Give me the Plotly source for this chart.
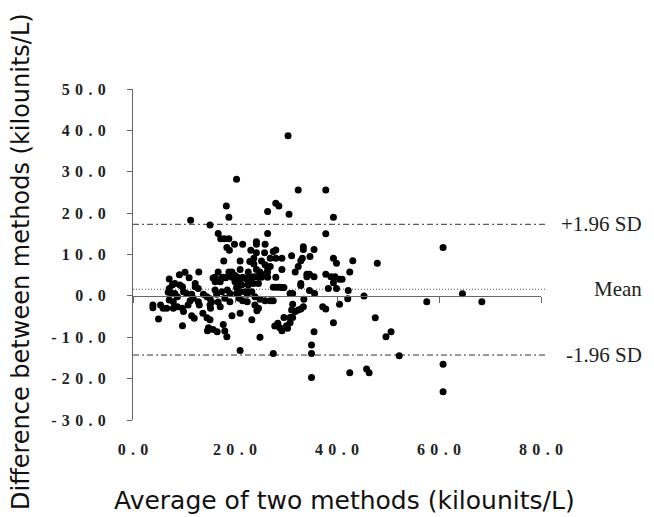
import plotly.graph_objects as go

# ---------------- data ----------------
avg = [
    30.4, 20.3, 32.4, 37.8, 28.0, 28.6, 18.3, 26.4, 30.6, 18.8, 39.3, 11.3, 15.1, 16.7, 26.4, 37.8,
    17.2, 17.9, 18.8, 19.9, 21.5, 24.2, 24.2, 25.9, 18.4, 18.9, 23.1, 24.2, 25.8, 28.0, 33.4, 33.4, 35.5, 27.5,
    17.8, 21.0, 23.7, 25.2, 26.9, 28.0, 29.2, 31.1, 33.2, 22.9, 12.9, 16.7, 18.8, 19.4, 21.0, 22.6, 24.2, 23.7,
    26.4, 26.4, 29.2, 31.8, 32.4, 25.9, 26.9, 25.6, 24.9,
    16.1, 17.7, 19.4, 20.5, 21.5, 22.6, 25.2, 26.4, 28.0,
    34.7, 39.3, 39.9, 43.1, 47.9, 42.5, 32.9,
    34.1, 34.1, 34.6, 35.5, 32.9, 32.9, 37.8, 38.8, 39.6, 39.3, 40.5, 41.0, 38.3, 39.9, 42.2,
    29.2, 29.6, 27.5, 28.2, 28.8, 30.8, 31.3, 34.6, 35.6,
    24.3, 23.6, 22.9, 22.6, 23.6, 24.6, 22.6, 23.3,
    10.2, 9.1, 11.0, 7.1, 8.2, 7.7, 9.2, 9.7, 12.2, 12.2, 12.8, 15.7, 16.1, 17.1, 17.4, 18.2, 18.9, 20.0,
    20.0, 21.0, 21.3, 22.3, 22.6, 20.3,
    7.1, 6.9, 7.6, 8.2, 8.7, 9.9, 10.5, 11.5, 11.8, 13.8, 14.5, 15.1, 15.4, 16.1, 16.4, 17.4, 18.5, 19.0,
    20.3, 21.0, 22.0, 22.4,
    3.9, 3.9, 5.4, 5.9, 6.6, 7.1, 7.9, 7.9, 8.7, 9.7, 10.8, 11.2, 12.8, 13.0, 15.1, 15.2, 16.7, 17.1, 18.0,
    19.0, 20.8, 21.5, 22.4,
    5.0, 9.9, 11.5, 12.0, 9.7, 13.7, 14.5, 14.8, 17.7, 19.4, 21.0, 16.5, 18.0, 15.1, 14.6, 15.7, 18.4, 21.0,
    24.9, 27.5, 27.8, 28.4,
    23.9, 24.9, 25.9, 26.9, 27.5, 23.9, 24.6, 24.3, 23.3, 30.1, 28.8, 28.2,
    33.5, 31.3, 42.1, 40.5, 45.3, 57.6, 37.2, 37.8, 33.4, 32.9, 32.4, 31.1, 31.8, 29.6, 30.8, 31.3, 30.8,
    30.3, 29.2, 39.3, 47.5, 35.5, 35.0, 35.0, 49.6, 50.6, 52.2, 35.0, 42.5, 45.8, 46.3, 60.8, 64.6, 68.4,
    60.8, 60.8,
]
diff = [
    38.7, 28.2, 25.6, 25.6, 22.4, 21.7, 21.7, 20.4, 19.7, 19.0, 19.0, 18.3, 17.1, 15.1, 15.1, 15.0,
    13.8, 13.8, 13.8, 12.5, 12.5, 13.1, 12.5, 12.5, 11.7, 11.0, 11.0, 10.4, 10.4, 11.1, 11.9, 11.2, 11.2, 10.7,
    8.4, 8.4, 9.1, 8.4, 9.1, 9.1, 9.1, 9.7, 9.1, 8.3, 5.8, 5.8, 5.8, 5.8, 6.4, 5.8, 6.4, 7.7,
    6.4, 5.8, 6.4, 5.8, 7.1, 7.5, 7.1, 5.1, 5.8,
    4.5, 4.5, 4.5, 4.5, 4.5, 4.5, 4.5, 4.5, 4.5,
    9.5, 9.1, 7.9, 8.5, 7.9, 5.8, 8.5,
    5.2, 4.6, 5.2, 4.6, 3.0, 2.5, 5.2, 4.6, 4.6, 3.2, 4.0, 4.0, 1.8, 1.8, 1.3,
    2.0, 2.0, 2.1, 2.1, 2.1, 0.6, 0.6, 1.3, 0.6,
    4.6, 4.6, 3.8, 3.0, 3.0, 3.0, 1.0, 1.0,
    5.7, 5.1, 4.4, 4.1, 3.0, 2.6, 2.6, 2.2, 3.0, 2.2, 1.8, 4.3, 3.4, 3.4, 4.3, 4.4, 4.9, 4.9,
    3.4, 3.4, 2.6, 4.1, 2.6, 2.0,
    1.8, 0.9, 0.6, 0.6, -0.2, 1.0, 0.6, 0.4, -0.6, 0.4, -0.2, -0.7, -1.5, 1.4, 0.4, 1.0, 1.4, 0.6,
    0.6, 1.0, 1.0, 0.4,
    -2.2, -2.9, -2.2, -3.0, -3.0, -1.0, -1.4, -3.0, -2.6, -3.0, -2.2, -1.2, -1.4, -2.2, -2.2, -3.0, -1.5, -2.6, -0.6,
    -1.4, -0.6, -1.2, -1.4,
    -5.6, -3.8, -4.8, -5.4, -7.2, -4.2, -5.3, -7.7, -6.9, -4.8, -4.2, -8.7, -8.5, -5.8, -8.4, -8.1, -9.9, -13.2,
    -10.0, -13.9, -7.3, -6.6,
    -0.2, -0.8, -1.2, -1.2, -1.2, -2.2, -3.0, -3.6, -5.8, -7.2, -7.7, -7.2,
    -0.8, -2.0, -0.7, -2.0, 0.0, -1.4, -2.6, -3.2, -2.6, -3.2, -3.4, -3.4, -3.8, -5.2, -5.2, -5.2, -6.5,
    -7.8, -8.4, -6.5, -5.3, -8.7, -11.9, -13.9, -9.9, -8.7, -14.5, -19.7, -18.6, -17.7, -18.6, 11.7, 0.5, -1.4,
    -16.5, -23.2,
]

mean_diff = 1.6
upper_loa = 17.3
lower_loa = -14.3
line_end_x = 81.1

x_ticks = [0, 20, 40, 60, 80]
y_ticks = [-30, -20, -10, 0, 10, 20, 30, 40, 50]
x_range = [0, 80]
y_range = [-30, 50]

ref_labels = ["+1.96 SD", "Mean", "-1.96 SD"]
ref_values = [upper_loa, mean_diff, lower_loa]


def spaced(v):
    return "\u2004".join(f"{v:.1f}")


# the page body adds an 8px offset; lay the figure out in window pixels minus it
OFF = 8
W, H = 654 - OFF, 517 - OFF
ML, MT = 133 - OFF, 89 - OFF
PW, PH = 408, 331
MR = W - ML - PW
MB = H - MT - PH


def px_x(wx):
    return (wx - OFF - ML) / PW


def px_y(wy):
    return (MT + PH - (wy - OFF)) / PH


fig = go.Figure()
fig.add_trace(go.Scatter(
    x=avg, y=diff, mode="markers",
    marker=dict(size=7, color="black", line=dict(width=0)),
    showlegend=False, hoverinfo="x+y",
))
# empty trace to register the bottom label axis
fig.add_trace(go.Scatter(x=[], y=[], xaxis="x2", yaxis="y", showlegend=False, hoverinfo="skip"))

tick_font = dict(family="Liberation Serif", size=16, color="#222", weight="bold")

zero_pos = (0 - y_range[0]) / (y_range[1] - y_range[0])

fig.update_layout(
    width=W, height=H,
    margin=dict(l=ML, r=MR, t=MT, b=MB, pad=0),
    paper_bgcolor="white", plot_bgcolor="white",
    xaxis=dict(
        range=x_range, domain=[0, 1], anchor="free", position=zero_pos,
        showline=True, linecolor="#666", linewidth=1,
        ticks="outside", ticklen=6, tickcolor="#666", tickwidth=1,
        tickvals=x_ticks, showticklabels=False,
        showgrid=False, zeroline=False,
    ),
    xaxis2=dict(
        range=x_range, domain=[0, 1], overlaying="x", anchor="y", side="bottom",
        showline=False, ticks="", showgrid=False, zeroline=False,
        tickvals=x_ticks, ticktext=[spaced(v) for v in x_ticks],
        tickfont=tick_font, ticklabelstandoff=18,
    ),
    yaxis=dict(
        range=y_range, domain=[0, 1],
        showline=True, linecolor="#666", linewidth=1,
        ticks="outside", ticklen=5, tickcolor="#666", tickwidth=1,
        tickvals=y_ticks, ticktext=[spaced(v) for v in y_ticks],
        tickfont=tick_font, ticklabelstandoff=18,
        showgrid=False, zeroline=False,
    ),
)

x_end_paper = line_end_x / x_range[1]
# limits of agreement and mean
for val, dash, col in [(upper_loa, "6px,3px,2px,3px", "#333"),
                       (lower_loa, "6px,3px,2px,3px", "#333"),
                       (mean_diff, "1px,2px", "#555")]:
    fig.add_shape(type="line", xref="paper", yref="y", x0=0, x1=x_end_paper, y0=val, y1=val,
                  line=dict(color=col, width=1, dash=dash), layer="below")

for lab, val in zip(ref_labels, ref_values):
    fig.add_annotation(text=lab, xref="paper", yref="y", x=px_x(644), y=val,
                       xanchor="right", yanchor="middle", showarrow=False,
                       font=dict(family="Liberation Serif", size=21, color="#222"))

fig.add_annotation(text="Difference between methods (kilounits/L)", textangle=-90,
                   xref="paper", yref="paper", x=px_x(21), y=px_y(262),
                   xanchor="center", yanchor="middle", showarrow=False,
                   font=dict(family="DejaVu Sans", size=24, color="#111"))
fig.add_annotation(text="Average of two methods (kilounits/L)",
                   xref="paper", yref="paper", x=px_x(344), y=px_y(500),
                   xanchor="center", yanchor="middle", showarrow=False,
                   font=dict(family="DejaVu Sans", size=25, color="#111"))

fig.write_html("out.html")
